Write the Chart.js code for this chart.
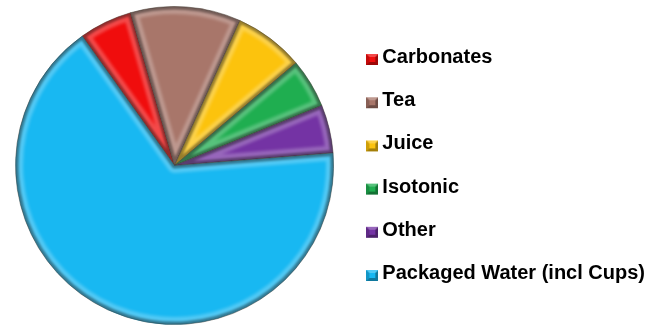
<!DOCTYPE html>
<html>
<head>
<meta charset="utf-8">
<script src="https://cdn.jsdelivr.net/npm/chart.js@4/dist/chart.umd.min.js"></script>
<style>
  html, body { margin: 0; padding: 0; background: #ffffff; }
  #wrap { width: 655px; height: 327px; }
</style>
</head>
<body>
<div id="wrap"><canvas id="c" width="655" height="327"></canvas></div>
<script>
// Drinks market share by category (%)
const categories = ['Carbonates', 'Tea', 'Juice', 'Isotonic', 'Other', 'Packaged Water (incl Cups)'];
const shares = [5.4, 11.2, 7.1, 5.0, 4.9, 66.4];
const sliceColors = ['#f00d0d', '#a8766a', '#fcc30d', '#1fae50', '#7433a4', '#18b8f2'];

// small bevelled square used as the legend marker
function bevelBox(color) {
  const cv = document.createElement('canvas');
  cv.width = 12; cv.height = 17;
  const g = cv.getContext('2d');
  const top = 5, w = 12, h = 11;
  g.fillStyle = color;
  g.fillRect(0, top, w, h);
  g.fillStyle = 'rgba(0,0,0,0.35)';
  g.beginPath(); g.moveTo(0, top + h); g.lineTo(w, top + h); g.lineTo(w - 3, top + h - 3); g.lineTo(3, top + h - 3); g.closePath(); g.fill();
  g.beginPath(); g.moveTo(w, top); g.lineTo(w, top + h); g.lineTo(w - 3, top + h - 3); g.lineTo(w - 3, top + 3); g.closePath(); g.fill();
  g.fillStyle = 'rgba(255,255,255,0.25)';
  g.beginPath(); g.moveTo(0, top); g.lineTo(w, top); g.lineTo(w - 3, top + 3); g.lineTo(3, top + 3); g.closePath(); g.fill();
  g.fillStyle = 'rgba(0,0,0,0.18)';
  g.beginPath(); g.moveTo(0, top); g.lineTo(3, top + 3); g.lineTo(3, top + h - 3); g.lineTo(0, top + h); g.closePath(); g.fill();
  return cv;
}
const legendMarkers = sliceColors.map(bevelBox);

// soft bevel on every slice: dark rim with a light band just inside it
const bevelPlugin = {
  id: 'bevel',
  afterDatasetsDraw(chart) {
    const ctx = chart.ctx;
    const meta = chart.getDatasetMeta(0);
    meta.data.forEach((arc) => {
      const p = arc.getProps(['x', 'y', 'startAngle', 'endAngle', 'outerRadius'], true);
      const slicePath = () => {
        ctx.beginPath();
        ctx.moveTo(p.x, p.y);
        ctx.arc(p.x, p.y, p.outerRadius, p.startAngle, p.endAngle);
        ctx.closePath();
      };
      ctx.save();
      slicePath();
      ctx.clip();
      ctx.lineJoin = 'round';
      ctx.filter = 'blur(1.5px)';
      slicePath();
      ctx.lineWidth = 15;
      ctx.strokeStyle = 'rgba(255,255,255,0.25)';
      ctx.stroke();
      ctx.filter = 'blur(1px)';
      slicePath();
      ctx.lineWidth = 6;
      ctx.strokeStyle = 'rgba(0,0,0,0.4)';
      ctx.stroke();
      ctx.restore();
    });
  }
};

new Chart(document.getElementById('c'), {
  type: 'pie',
  data: {
    labels: categories,
    datasets: [{
      data: shares,
      backgroundColor: sliceColors,
      borderColor: 'rgba(40,30,20,0.45)',
      borderWidth: 1
    }]
  },
  options: {
    responsive: false,
    animation: false,
    rotation: -35.5,
    layout: { padding: { top: 6, bottom: 2, left: 0, right: 0 } },
    plugins: {
      tooltip: { enabled: false },
      legend: {
        position: 'right',
        align: 'center',
        labels: {
          usePointStyle: true,
          boxWidth: 0.01,
          boxHeight: 11,
          padding: 23.2,
          color: '#000000',
          font: { family: "'Liberation Sans', Arial, sans-serif", size: 20, weight: 'bold' },
          generateLabels(chart) {
            const items = Chart.controllers.pie.overrides.plugins.legend.labels.generateLabels(chart);
            items.forEach((it, i) => { it.pointStyle = legendMarkers[i]; });
            return items;
          }
        }
      }
    }
  },
  plugins: [bevelPlugin]
});
</script>
</body>
</html>
